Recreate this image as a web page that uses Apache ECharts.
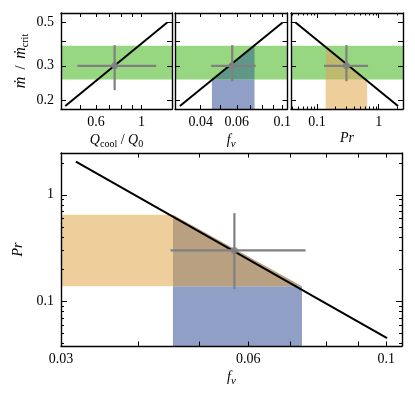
<!DOCTYPE html>
<html><head><meta charset="utf-8">
<script src="https://cdn.jsdelivr.net/npm/echarts@6/dist/echarts.min.js"></script>
<style>html,body{margin:0;padding:0;background:#fff}#c{width:415px;height:398px}</style>
</head><body><div id="c"></div>
<script>
// ---- axis ranges ----
const qRange = [0.405, 1.41];
const fRange = [0.03, 0.106];
const prRange = [0.038, 2.47];
const mdotRange = [0.18, 0.56];

// ---- bands ----
const mdotBand = [0.255, 0.38];
const fBand = [0.0454, 0.0732];
const prBand = [0.138, 0.65];

// ---- relation line endpoints ----
const qLine = [0.425, 1.336];
const fLine = [0.0317, 0.1003];
const prLine = [2.05, 0.045];
const mdotLine = [0.1866, 0.5];

// ---- measured point and error bars ----
const qPoint = 0.74, fPoint = 0.057, prPoint = 0.30, mdotPoint = 0.30;
const qErr = [0.487, 1.18];
const fErr = [0.045, 0.0742];
const prErr = [0.13, 0.673];
const mdotErrQ = [0.225, 0.383];
const mdotErr = [0.25, 0.383];

// ---- ticks ----
const qTicks = [0.5, 0.6, 0.7, 0.8, 0.9, 1];
const qLabels = [0.6, 1];
const mdotTicks = [0.2, 0.3, 0.4, 0.5];
const mdotLabels = [0.2, 0.3, 0.5];
const fTicks = [0.03, 0.04, 0.05, 0.06, 0.07, 0.08, 0.09, 0.1];
const fLabelsTop = [0.04, 0.06, 0.1];
const fLabelsMain = [0.03, 0.06, 0.1];
const prMajor = [0.1, 1];
const prMinor = [0.04, 0.05, 0.06, 0.07, 0.08, 0.09, 0.2, 0.3, 0.4, 0.5, 0.6, 0.7, 0.8, 0.9, 2];
const prLabels = [0.1, 1];

const FONT = 'Liberation Serif';
const FS = 14;
const GREEN = '#98d781', BLUE = '#8f9fc6', ORANGE = '#eecf9b';
const TEAL = '#5f9887', OLIVE = '#bdb96d', BROWN = '#b8a080';
const GRAY = '#808080';

const rects = [
  {left: 61, top: 13, width: 111, height: 96},
  {left: 175, top: 13, width: 112.5, height: 96},
  {left: 291, top: 13, width: 112, height: 96},
  {left: 61, top: 153, width: 341, height: 193}
];
const grids = [];
rects.forEach(r => grids.push(Object.assign({outerBoundsMode: 'none', containLabel: false}, r)));
rects.forEach(r => grids.push(Object.assign({outerBoundsMode: 'none', containLabel: false}, r)));

const fmt = v => String(parseFloat((+v).toPrecision(4)));
const rich = {
  i: {fontFamily: FONT, fontSize: FS, fontStyle: 'italic', color: '#000'},
  m: {fontFamily: FONT, fontSize: 16, fontStyle: 'italic', color: '#000'},
  n: {fontFamily: FONT, fontSize: FS, color: '#000'},
  s: {fontFamily: FONT, fontSize: 10, color: '#000', padding: [8, 0, 0, 0]},
  si: {fontFamily: FONT, fontSize: 11, fontStyle: 'italic', color: '#000', padding: [8, 0, 0, 0]}
};

function axes(dim, p, o) {
  const posA = dim === 'x' ? 'bottom' : 'left';
  const posB = dim === 'x' ? 'top' : 'right';
  const base = {type: 'log', logBase: 10, min: o.range[0], max: o.range[1], z: 10,
    splitLine: {show: false}, minorTick: {show: false}, minorSplitLine: {show: false}};
  const line = {show: true, onZero: false, lineStyle: {color: '#000', width: 1.4}};
  const tk = (vals, len) => ({show: vals.length > 0, inside: true, length: len, customValues: vals,
    lineStyle: {color: '#000', width: 1}});
  const noLab = {show: false};
  const list = [];
  list.push(Object.assign({}, base, {gridIndex: p, position: posA, axisLine: line,
    axisTick: tk(o.major, o.majLen),
    axisLabel: o.labels ? {show: true, customValues: o.labels, formatter: fmt, fontFamily: FONT,
      fontSize: FS, color: '#000', margin: o.margin} : noLab,
    name: o.name || '', nameLocation: 'middle', nameGap: o.nameGap || 0,
    nameRotate: dim === 'y' ? 90 : 0,
    nameTextStyle: {fontFamily: FONT, fontSize: FS, color: '#000', rich: rich}}));
  list.push(Object.assign({}, base, {gridIndex: p, position: posB, axisLine: line,
    axisTick: tk(o.major, o.majLen), axisLabel: noLab}));
  list.push(Object.assign({}, base, {gridIndex: p + 4, position: posA, axisLine: {show: false},
    axisTick: tk(o.minor || [], o.minLen || 2), axisLabel: noLab}));
  list.push(Object.assign({}, base, {gridIndex: p + 4, position: posB, axisLine: {show: false},
    axisTick: tk(o.minor || [], o.minLen || 2), axisLabel: noLab}));
  return list;
}

const xAxes = [].concat(
  axes('x', 0, {range: qRange, major: qTicks, labels: qLabels, majLen: 4, margin: 6,
    name: '{i|Q}{s|cool}{n| / }{i|Q}{s|0}', nameGap: 22}),
  axes('x', 1, {range: fRange, major: fTicks, labels: fLabelsTop, majLen: 4, margin: 6,
    name: '{i|f}{si|ν}', nameGap: 22}),
  axes('x', 2, {range: prRange, major: prMajor, minor: prMinor, minLen: 2.5, labels: prLabels, majLen: 5, margin: 6,
    name: '{i|Pr}', nameGap: 22}),
  axes('x', 3, {range: fRange, major: fTicks, labels: fLabelsMain, majLen: 4.5, margin: 6,
    name: '{i|f}{si|ν}', nameGap: 22})
);
const yAxes = [].concat(
  axes('y', 0, {range: mdotRange, major: mdotTicks, labels: mdotLabels, majLen: 5, margin: 7,
    name: '{m|ṁ}{n|  /  }{m|ṁ}{s|crit}', nameGap: 31}),
  axes('y', 1, {range: mdotRange, major: mdotTicks, majLen: 5}),
  axes('y', 2, {range: mdotRange, major: mdotTicks, majLen: 5}),
  axes('y', 3, {range: prRange, major: prMajor, minor: prMinor, minLen: 3, labels: prLabels, majLen: 6, margin: 7,
    name: '{i|Pr}', nameGap: 34})
);

function poly(p, pts, color, z) {
  return {type: 'custom', coordinateSystem: 'cartesian2d', xAxisIndex: 4 * p, yAxisIndex: 4 * p,
    z: z, silent: true, animation: false, data: [pts[0]],
    renderItem: (params, api) => ({type: 'polygon',
      shape: {points: pts.map(pt => api.coord(pt))}, style: {fill: color}})};
}
function seg(p, pts, color, width, z) {
  return {type: 'line', xAxisIndex: 4 * p, yAxisIndex: 4 * p, data: pts, symbol: 'none',
    lineStyle: {color: color, width: width}, z: z, silent: true, animation: false};
}
function dot(p, pt) {
  return {type: 'scatter', xAxisIndex: 4 * p, yAxisIndex: 4 * p, data: [pt], symbolSize: 7,
    itemStyle: {color: GRAY}, z: 6, silent: true, animation: false};
}
function cross(p, xv, yv, xe, ye) {
  return [seg(p, [[xe[0], yv], [xe[1], yv]], GRAY, 2.2, 5),
          seg(p, [[xv, ye[0]], [xv, ye[1]]], GRAY, 2.2, 5), dot(p, [xv, yv])];
}
function band(p, xr) {
  return poly(p, [[xr[0], mdotBand[0]], [xr[1], mdotBand[0]], [xr[1], mdotBand[1]], [xr[0], mdotBand[1]]], GREEN, 1);
}

const series = [].concat(
  // panel 0
  band(0, qRange),
  seg(0, [[qLine[0], mdotLine[0]], [qLine[1], mdotLine[1]]], '#000', 2, 4),
  cross(0, qPoint, mdotPoint, qErr, mdotErrQ),
  // panel 1
  band(1, fRange),
  poly(1, [[fBand[0], mdotRange[0]], [fBand[1], mdotRange[0]], [fBand[1], mdotBand[0]], [fBand[0], mdotBand[0]]], BLUE, 2),
  poly(1, [[fBand[0], mdotBand[0]], [fBand[1], mdotBand[0]], [fBand[1], mdotBand[1]]], TEAL, 2),
  seg(1, [[fLine[0], mdotLine[0]], [fLine[1], mdotLine[1]]], '#000', 2, 4),
  cross(1, fPoint, mdotPoint, fErr, mdotErr),
  // panel 2
  band(2, prRange),
  poly(2, [[prBand[0], mdotRange[0]], [prBand[1], mdotRange[0]], [prBand[1], mdotBand[0]], [prBand[0], mdotBand[0]]], ORANGE, 2),
  poly(2, [[prBand[0], mdotBand[0]], [prBand[1], mdotBand[0]], [prBand[0], mdotBand[1]]], OLIVE, 2),
  seg(2, [[prLine[0], mdotLine[0]], [prLine[1], mdotLine[1]]], '#000', 2, 4),
  cross(2, prPoint, mdotPoint, prErr, mdotErr),
  // panel 3
  poly(3, [[fRange[0], prBand[0]], [fBand[0], prBand[0]], [fBand[0], prBand[1]], [fRange[0], prBand[1]]], ORANGE, 1),
  poly(3, [[fBand[0], prRange[0]], [fBand[1], prRange[0]], [fBand[1], prBand[0]], [fBand[0], prBand[0]]], BLUE, 1),
  poly(3, [[fBand[0], prBand[0]], [fBand[1], prBand[0]], [fBand[0], prBand[1]]], BROWN, 2),
  seg(3, [[fLine[0], prLine[0]], [fLine[1], prLine[1]]], '#000', 2, 4),
  cross(3, fPoint, prPoint, fErr, prErr)
);

const chart = echarts.init(document.getElementById('c'), null, {renderer: 'canvas'});
chart.setOption({
  animation: false,
  backgroundColor: '#fff',
  grid: grids,
  xAxis: xAxes,
  yAxis: yAxes,
  series: series
});
</script>
</body></html>
